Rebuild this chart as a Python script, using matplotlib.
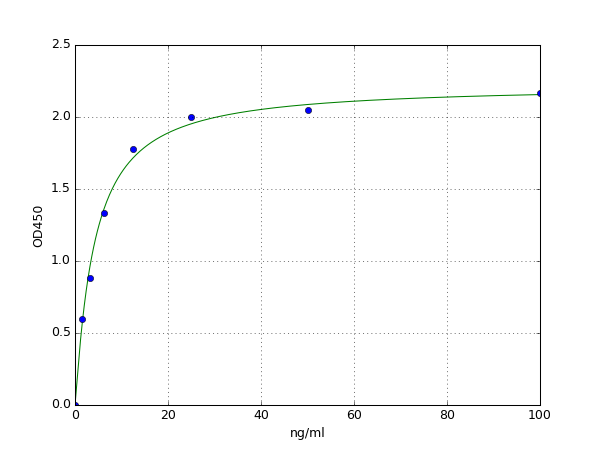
import numpy as np
import matplotlib
matplotlib.use('Agg')
import matplotlib.pyplot as plt

plt.style.use('classic')

# standard concentrations (ng/ml) and measured OD450
conc = [0, 1.5625, 3.125, 6.25, 12.5, 25, 50, 100]
od450 = [0.0, 0.60, 0.88, 1.33, 1.78, 2.00, 2.05, 2.17]

# fitted 4PL curve parameters
fit_bottom = 0.0
fit_top = 2.22
fit_ec50 = 4.1
fit_slope = 1.1


def four_pl(x):
    return fit_top + (fit_bottom - fit_top) / (1 + (x / fit_ec50) ** fit_slope)


fig = plt.figure(figsize=(8, 6), dpi=75)
ax = fig.add_subplot(111)

xs = np.linspace(0, 100, 500)
ax.plot(xs, four_pl(xs), 'g-')
ax.plot(conc, od450, 'bo')

ax.set_xlim(0, 100)
ax.set_ylim(0, 2.5)
ax.set_xlabel('ng/ml')
ax.set_ylabel('OD450')
ax.grid(True)

fig.savefig('out.png', dpi=75)
